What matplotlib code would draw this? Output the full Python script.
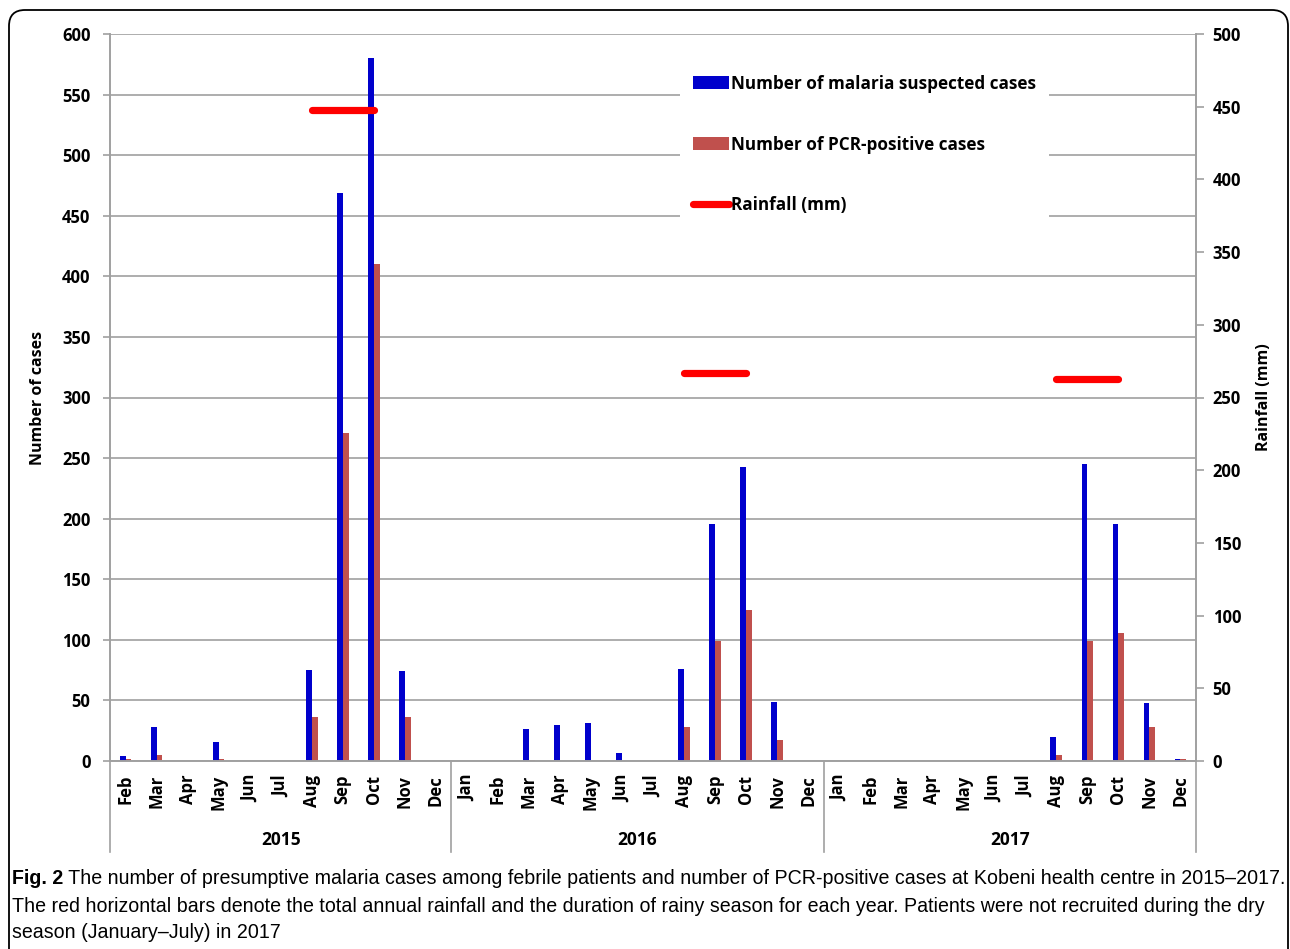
import numpy as np
import matplotlib
matplotlib.use("Agg")
import matplotlib.pyplot as plt
import matplotlib.font_manager as fm
from matplotlib.patches import Patch, FancyBboxPatch
from matplotlib.lines import Line2D

# ---------------- data ----------------
months_2015 = ['Feb', 'Mar', 'Apr', 'May', 'Jun', 'Jul', 'Aug', 'Sep', 'Oct', 'Nov', 'Dec']
months_2016 = ['Jan', 'Feb', 'Mar', 'Apr', 'May', 'Jun', 'Jul', 'Aug', 'Sep', 'Oct', 'Nov', 'Dec']
months_2017 = ['Jan', 'Feb', 'Mar', 'Apr', 'May', 'Jun', 'Jul', 'Aug', 'Sep', 'Oct', 'Nov', 'Dec']
years = ['2015', '2016', '2017']

suspected_2015 = [4, 28, 0, 16, 0, 0, 75, 469, 580, 74, 0]
suspected_2016 = [0, 0, 26, 30, 31, 7, 0, 76, 196, 243, 49, 0]
suspected_2017 = [0, 0, 0, 0, 0, 0, 0, 20, 245, 196, 48, 2]

pcr_2015 = [2, 5, 0, 2, 0, 0, 36, 271, 410, 36, 0]
pcr_2016 = [0, 0, 1, 0, 0, 0, 0, 28, 99, 125, 17, 0]
pcr_2017 = [0, 0, 0, 0, 0, 0, 0, 5, 99, 106, 28, 2]

rain_total = [448, 267, 263]          # mm, one per year
rain_months = [['Aug', 'Sep', 'Oct'], ['Aug', 'Sep', 'Oct'], ['Aug', 'Sep', 'Oct']]

legend_labels = ['Number of malaria suspected cases', 'Number of PCR-positive cases', 'Rainfall (mm)']
caption_bold = 'Fig. 2'
caption_lines = [
    ' The number of presumptive malaria cases among febrile patients and number of PCR-positive cases at Kobeni health centre in 2015\u20132017.',
    'The red horizontal bars denote the total annual rainfall and the duration of rainy season for each year. Patients were not recruited during the dry',
    'season (January\u2013July) in 2017',
]

# ---------------- build series ----------------
month_groups = [months_2015, months_2016, months_2017]
labels = months_2015 + months_2016 + months_2017
suspected = np.array(suspected_2015 + suspected_2016 + suspected_2017, dtype=float)
pcr = np.array(pcr_2015 + pcr_2016 + pcr_2017, dtype=float)
n = len(labels)
x = np.arange(n)

rain_segments = []
offset = 0
for grp, total, rm in zip(month_groups, rain_total, rain_months):
    xs = [offset + grp.index(m) for m in rm]
    rain_segments.append((xs, [total] * len(xs)))
    offset += len(grp)

# ---------------- style ----------------
W, H, DPI = 1290, 949, 100
BLUE = '#0000CC'
RED = '#C0504D'
RAIN = '#FF0000'
GRAY = '#A0A0A0'
FONT = ['Open Sans', 'DejaVu Sans']

plt.rcParams['font.family'] = FONT
fig = plt.figure(figsize=(W / DPI, H / DPI), dpi=DPI)
fig.patch.set_facecolor('white')

ax_left, ax_right, ax_top, ax_bot = 110, 1196, 34, 761
ax = fig.add_axes([ax_left / W, 1 - ax_bot / H, (ax_right - ax_left) / W, (ax_bot - ax_top) / H])
ax.set_facecolor('none')
ax2 = ax.twinx()

bw = 0.19
ax.bar(x - bw / 2, suspected, width=bw, color=BLUE, linewidth=0, zorder=2)
ax.bar(x + bw / 2, pcr, width=bw, color=RED, linewidth=0, zorder=2)

for xs, ys in rain_segments:
    ax2.plot(xs, ys, color=RAIN, lw=5.2, solid_capstyle='round', zorder=3)

ax.set_xlim(-0.5, n - 0.5)
ax.set_ylim(0, 600)
ax2.set_ylim(0, 500)
ax.set_yticks(np.arange(0, 601, 50))
ax2.set_yticks(np.arange(0, 501, 50))
ax.yaxis.grid(True, color=GRAY, lw=1.2)
ax.set_axisbelow(True)

ax.set_xticks(x)
ax.set_xticklabels(labels, rotation=90, fontsize=12, fontweight='bold')
ax.tick_params(axis='x', length=0, pad=10)
ax.tick_params(axis='y', direction='out', length=5, color=GRAY, width=1.2, pad=9)
ax2.tick_params(axis='y', direction='out', length=5.5, color=GRAY, width=1.2, pad=6.5)
for lab in ax.get_yticklabels() + ax2.get_yticklabels():
    lab.set_fontsize(12)
    lab.set_fontweight('bold')

for a in (ax, ax2):
    for s in a.spines.values():
        s.set_color(GRAY)
        s.set_linewidth(1.2)
    a.spines['top'].set_visible(False)

ax.set_ylabel('Number of cases', fontsize=11.5, fontweight='bold')
ax.yaxis.set_label_coords((46 - ax_left) / (ax_right - ax_left), 0.5)
ax2.set_ylabel('Rainfall (mm)', fontsize=11.5, fontweight='bold', rotation=90)
ax2.yaxis.set_label_coords((1256 - ax_left) / (ax_right - ax_left), 0.5)

# multi-level category axis: separators and year labels
trans = ax.get_xaxis_transform()
axis_h = ax_bot - ax_top
y_sep_bottom = -(852 - ax_bot) / axis_h
y_year = -(840 - ax_bot) / axis_h
edges = [-0.5]
for grp in month_groups:
    edges.append(edges[-1] + len(grp))
for e in edges:
    ax.plot([e, e], [0, y_sep_bottom], transform=trans, color=GRAY, lw=1.2, clip_on=False)
for i, yr in enumerate(years):
    ax.text((edges[i] + edges[i + 1]) / 2, y_year, yr, transform=trans, ha='center', va='center',
            fontsize=12.5, fontweight='bold', clip_on=False)

# legend
handles = [Patch(facecolor=BLUE, edgecolor='none'),
           Patch(facecolor=RED, edgecolor='none'),
           Line2D([], [], color=RAIN, lw=5.2, solid_capstyle='round')]
leg = ax2.legend(handles, legend_labels, loc='upper left',
                 bbox_to_anchor=(680 / W, 1 - 62 / H), bbox_transform=fig.transFigure,
                 frameon=True, facecolor='white', edgecolor='none', framealpha=1, fancybox=False,
                 prop=dict(family=FONT, size=12.3, weight='bold'),
                 handlelength=2.1, handleheight=0.8, handletextpad=0.15,
                 labelspacing=2.5, borderpad=0.75, borderaxespad=0)
leg.set_zorder(10)
leg.get_frame().set_width(1)  # placeholder; frame auto-sized

# border
fig.add_artist(FancyBboxPatch((0.09, -0.3), 12.79, 9.39 + 0.3,
                              boxstyle='round,pad=0,rounding_size=0.16',
                              transform=fig.dpi_scale_trans, facecolor='none',
                              edgecolor='black', lw=1.3))

# caption
names = {f.name for f in fm.fontManager.ttflist}
cap_fam = 'Liberation Sans Narrow' if 'Liberation Sans Narrow' in names else 'Liberation Sans'
cap_size = 12.5
cap_y = [878, 906, 933]
cap_x0 = 12
t_bold = fig.text(cap_x0 / W, 1 - cap_y[0] / H, caption_bold, family=cap_fam, fontweight='bold',
                  fontsize=cap_size, ha='left', va='center')
t_rest = fig.text(0, 1 - cap_y[0] / H, caption_lines[0], family=cap_fam, fontsize=cap_size,
                  ha='left', va='center')
t_l2 = fig.text(cap_x0 / W, 1 - cap_y[1] / H, caption_lines[1], family=cap_fam, fontsize=cap_size,
                ha='left', va='center')
t_l3 = fig.text(cap_x0 / W, 1 - cap_y[2] / H, caption_lines[2], family=cap_fam, fontsize=cap_size,
                ha='left', va='center')

r = fig.canvas.get_renderer()
target_right = 1280
for _ in range(4):
    fig.canvas.draw()
    bb = t_bold.get_window_extent(r)
    t_rest.set_position((bb.x1 / W, 1 - cap_y[0] / H))
    fig.canvas.draw()
    rb = t_rest.get_window_extent(r)
    scale = (target_right - cap_x0) / (rb.x1 - cap_x0)
    cap_size *= scale
    for t in (t_bold, t_rest, t_l2, t_l3):
        t.set_fontsize(cap_size)
fig.canvas.draw()
bb = t_bold.get_window_extent(r)
t_rest.set_position((bb.x1 / W, 1 - cap_y[0] / H))

fig.savefig('out.png', dpi=DPI)
